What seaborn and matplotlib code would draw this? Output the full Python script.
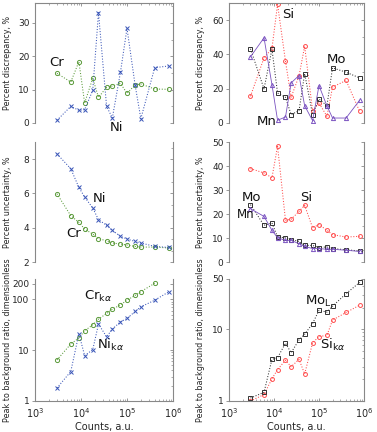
import numpy as np
import pandas as pd
import matplotlib
matplotlib.use("Agg")
import matplotlib.pyplot as plt
import seaborn as sns
from matplotlib.ticker import NullLocator, AutoMinorLocator, LogLocator

# ---------------- data ----------------
counts = [3000, 6000, 9000, 12000, 18000, 24000, 36000, 48000, 72000,
          100000, 150000, 200000, 400000, 800000]

disc_ni = [0.8, 5.0, 3.8, 4.0, 9.8, 33.1, 5.0, 1.5, 15.2, 28.4, 11.4, 1.3, 16.6, 17.1]
disc_cr = [14.9, 12.3, 18.4, 6.0, 13.4, 7.7, 10.7, 11.1, 11.9, 8.9, 11.4, 11.7, 10.2, 10.1]
disc_si = [15.6, 38.0, 43.5, 69.2, 36.0, 15.0, 27.5, 44.8, 7.2, 11.7, 3.9, 21.0, 24.8, 6.8]
disc_mo = [43.3, 19.9, 43.0, 17.5, 15.0, 4.9, 7.2, 28.8, 4.9, 14.0, 10.1, 32.2, 29.6, 26.3]
disc_mn = [38.6, 49.7, 22.4, 1.6, 3.5, 23.4, 27.7, 10.1, 1.4, 21.8, 10.0, 2.9, 2.9, 13.3]

unc_ni = [8.31, 7.44, 6.35, 5.79, 5.15, 4.47, 4.14, 3.84, 3.50, 3.34, 3.20, 3.11, 2.91, 2.85]
unc_cr = [5.98, 4.70, 4.31, 3.92, 3.63, 3.36, 3.24, 3.11, 3.05, 2.99, 2.91, 2.87, 2.87, 2.82]
unc_si = [38.9, 37.1, 35.1, 48.2, 17.4, 17.8, 21.1, 23.6, 14.3, 15.6, 13.2, 11.4, 10.4, 10.7]
unc_mo = [23.9, 15.3, 16.3, 10.4, 10.1, 9.3, 8.6, 6.9, 6.9, 6.0, 6.3, 5.6, 5.1, 4.6]
unc_mn = [22.2, 19.0, 13.2, 10.1, 9.0, 9.0, 7.6, 6.5, 5.6, 5.6, 5.3, 5.3, 4.9, 4.4]

pbr_ni = [1.8, 3.8, 21.0, 7.8, 10.2, 32.5, 18.3, 25.9, 36.0, 41.9, 57.5, 71.0, 95.6, 139.0]
pbr_cr = [6.4, 13.2, 17.3, 24.0, 31.5, 40.7, 52.5, 63.6, 77.6, 95.6, 119.0, 141.0, 206.0, np.nan]
pbr_mo = [1.1, 1.32, 3.8, 4.0, 6.4, 4.7, 7.1, 8.5, 12.0, 18.3, 17.3, 20.9, 31.3, 44.8]
pbr_si = [1.0, 1.23, 2.04, 2.74, 3.7, 3.0, 3.8, 2.38, 6.45, 7.9, 8.2, 13.4, 17.1, 21.6]

# ---------------- style ----------------
sns.set_style("ticks")
plt.rcParams["font.family"] = ["DejaVu Sans"]
plt.rcParams["mathtext.fontset"] = "dejavusans"

C_NI = "#3a56b8"
C_CR = "#5a9a3a"
C_SI = "#ff4a4a"
C_MO = "#333333"
C_MN = "#7a52c0"
SPINE = "#888888"

fig = plt.figure(figsize=(3.77, 4.32), dpi=100)

W = 377.0
H = 432.0
cols = [(35, 138), (229, 135)]
rows = [(3, 123), (142, 262), (279, 401)]


def make_ax(r, c):
    x0, w = cols[c]
    t, b = rows[r]
    return fig.add_axes([x0 / W, 1 - b / H, w / W, (b - t) / H])


def draw(ax, y, color, marker, ls, ms=3.0, lw=0.75):
    df = pd.DataFrame({"counts": counts, "val": y}).dropna()
    sns.lineplot(data=df, x="counts", y="val", ax=ax, color=color, marker=marker,
                 linestyle=ls, lw=lw, markersize=ms, markerfacecolor="none",
                 markeredgecolor=color, markeredgewidth=0.7, sort=False,
                 estimator=None, legend=False)


def style(ax, r, ylim, yticks, log=False, minor_n=2, ylabel=""):
    twin = ax.twinx()
    for a in (ax, twin):
        a.set_xscale("log")
        a.set_xlim(1e3, 1e6)
        if log:
            a.set_yscale("log")
        a.set_ylim(ylim)
    ax.set_yticks(yticks)
    ax.set_yticklabels([str(t) for t in yticks])
    ax.yaxis.set_minor_locator(NullLocator())
    ax.tick_params(axis="y", which="major", direction="out", length=2.5, width=0.6,
                   color=SPINE, labelsize=6.5, pad=1.5, left=True, right=False,
                   labelleft=True, labelright=False)
    twin.set_yticks(yticks)
    if log:
        twin.yaxis.set_minor_locator(LogLocator(base=10, subs=np.arange(2, 10)))
    else:
        twin.yaxis.set_minor_locator(AutoMinorLocator(minor_n))
    twin.tick_params(axis="y", which="major", direction="in", length=2.5, width=0.6,
                     color=SPINE, right=True, left=False, labelright=False)
    twin.tick_params(axis="y", which="minor", direction="in", length=1.6, width=0.5,
                     color=SPINE, right=True, left=False, labelright=False)
    for s in twin.spines.values():
        s.set_visible(False)
    for name, s in ax.spines.items():
        s.set_color(SPINE)
        s.set_linewidth(0.8)
    ax.spines["top"].set_visible(r == 0)
    ax.spines["bottom"].set_visible(r == 2)
    ax.spines["left"].set_visible(True)
    ax.spines["right"].set_visible(True)
    ax.set_xlabel("")
    ax.set_ylabel(ylabel, fontsize=5.8, labelpad=2)
    if r == 0:
        ax.xaxis.set_ticks_position("top")
        ax.tick_params(axis="x", which="major", direction="in", length=2.5, width=0.6,
                       color=SPINE, top=True, bottom=False, labeltop=False, labelbottom=False)
        ax.tick_params(axis="x", which="minor", direction="in", length=1.6, width=0.5,
                       color=SPINE, top=True, bottom=False)
    elif r == 1:
        ax.tick_params(axis="x", which="both", top=False, bottom=False,
                       labeltop=False, labelbottom=False)
    else:
        ax.tick_params(axis="x", which="major", direction="in", length=2.5, width=0.6,
                       color=SPINE, top=False, bottom=True, labelsize=7, pad=3.5)
        ax.tick_params(axis="x", which="minor", direction="in", length=1.6, width=0.5,
                       color=SPINE, top=False, bottom=True)
        ax.set_xlabel("Counts, a.u.", fontsize=7, labelpad=2)
    ax.set_facecolor("none")
    return twin


def label(ax, fx, fy, s, fs=9.5):
    ax.text(fx, fy, s, transform=ax.transAxes, fontsize=fs, ha="center", va="center",
            clip_on=False, color="#111111")


# ---- top-left: discrepancy Cr/Ni
ax = make_ax(0, 0)
draw(ax, disc_cr, C_CR, "o", ":")
draw(ax, disc_ni, C_NI, "x", ":")
style(ax, 0, (0, 36), [0, 10, 20, 30], ylabel="Percent discrepancy, %")
ax.yaxis.set_label_coords(-0.17, 0.5)
label(ax, 0.16, 0.50, "Cr")
label(ax, 0.59, -0.04, "Ni")

# ---- top-right: discrepancy Si/Mo/Mn
ax = make_ax(0, 1)
draw(ax, disc_si, C_SI, "o", ":", ms=2.8)
draw(ax, disc_mo, C_MO, "s", ":")
draw(ax, disc_mn, C_MN, "^", "-", lw=0.6)
style(ax, 0, (0, 70), [0, 20, 40, 60], ylabel="Percent discrepancy, %")
ax.yaxis.set_label_coords(-0.18, 0.5)
label(ax, 0.44, 0.90, "Si")
label(ax, 0.80, 0.53, "Mo")
label(ax, 0.28, 0.01, "Mn")

# ---- middle-left: uncertainty Cr/Ni
ax = make_ax(1, 0)
draw(ax, unc_cr, C_CR, "o", ":")
draw(ax, unc_ni, C_NI, "x", ":")
style(ax, 1, (2, 9), [2, 4, 6, 8], minor_n=3, ylabel="Percent uncertainty, %")
ax.yaxis.set_label_coords(-0.17, 0.5)
label(ax, 0.47, 0.525, "Ni")
label(ax, 0.28, 0.24, "Cr")

# ---- middle-right: uncertainty Si/Mo/Mn
ax = make_ax(1, 1)
draw(ax, unc_si, C_SI, "o", ":", ms=2.8)
draw(ax, unc_mo, C_MO, "s", ":")
draw(ax, unc_mn, C_MN, "^", "-", lw=0.6)
style(ax, 1, (0, 50), [0, 10, 20, 30, 40, 50], ylabel="Percent uncertainty, %")
ax.yaxis.set_label_coords(-0.18, 0.5)
label(ax, 0.17, 0.54, "Mo")
label(ax, 0.12, 0.40, "Mn", fs=8.5)
label(ax, 0.57, 0.54, "Si")

# ---- bottom-left: peak to background Cr/Ni
ax = make_ax(2, 0)
draw(ax, pbr_cr, C_CR, "o", ":")
draw(ax, pbr_ni, C_NI, "x", ":")
style(ax, 2, (1, 250), [1, 10, 100, 200], log=True,
      ylabel="Peak to background ratio, dimensionless")
ax.yaxis.set_label_coords(-0.17, 0.5)
label(ax, 0.46, 0.86, r"Cr$_{\mathregular{k}\alpha}$")
label(ax, 0.55, 0.46, r"Ni$_{\mathregular{k}\alpha}$")

# ---- bottom-right: peak to background Mo/Si
ax = make_ax(2, 1)
draw(ax, pbr_si, C_SI, "o", ":", ms=2.8)
draw(ax, pbr_mo, C_MO, "s", ":")
style(ax, 2, (1, 50), [1, 10, 50], log=True,
      ylabel="Peak to background ratio, dimensionless")
ax.yaxis.set_label_coords(-0.18, 0.5)
label(ax, 0.66, 0.82, r"Mo$_{\mathregular{L}}$")
label(ax, 0.77, 0.46, r"Si$_{\mathregular{k}\alpha}$")

fig.savefig("out.png", dpi=100)
